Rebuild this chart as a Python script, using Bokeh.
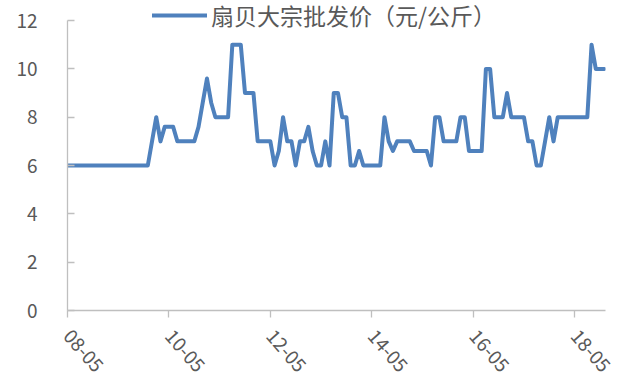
from bokeh.plotting import figure
from bokeh.models import Range1d, FixedTicker, Legend, LegendItem
from bokeh.embed import file_html
from bokeh.resources import INLINE

series_name = "扇贝大宗批发价（元/公斤）"

# monthly prices from 2008-05 to 2018-12
prices = [
    6, 6, 6, 6, 6, 6, 6, 6, 6, 6, 6, 6,
    6, 6, 6, 6, 6, 6, 6, 6, 7, 8, 7, 7.6,
    7.6, 7.6, 7, 7, 7, 7, 7, 7.6, 8.6, 9.6, 8.6, 8,
    8, 8, 8, 11, 11, 11, 9, 9, 9, 7, 7, 7,
    7, 6, 6.6, 8, 7, 7, 6, 7, 7, 7.6, 6.6, 6,
    6, 7, 6, 9, 9, 8, 8, 6, 6, 6.6, 6, 6,
    6, 6, 6, 8, 7, 6.6, 7, 7, 7, 7, 6.6, 6.6,
    6.6, 6.6, 6, 8, 8, 7, 7, 7, 7, 8, 8, 6.6,
    6.6, 6.6, 6.6, 10, 10, 8, 8, 8, 9, 8, 8, 8,
    8, 7, 7, 6, 6, 7, 8, 7, 8, 8, 8, 8,
    8, 8, 8, 8, 11, 10, 10, 10,
]
month_index = list(range(len(prices)))

x_tick_positions = [0, 24, 48, 72, 96, 120]
x_tick_labels = ["08-05", "10-05", "12-05", "14-05", "16-05", "18-05"]
y_ticks = [0, 2, 4, 6, 8, 10, 12]

FONT = "Noto Sans CJK SC"
LINE_COLOR = "#4f81bd"
AXIS_COLOR = "#bfbfbf"
TEXT_COLOR = "#595959"

# extra headroom above 12 holds the legend
p = figure(width=630, height=383, output_backend="svg", toolbar_location=None,
           x_range=Range1d(0, 127.3), y_range=Range1d(0, 12.83),
           min_border_left=67, min_border_right=25, min_border_top=0,
           min_border_bottom=73)
p.outline_line_color = None
p.xgrid.visible = False
p.ygrid.visible = False
p.background_fill_color = "white"
p.border_fill_color = "white"

r = p.line(month_index, prices, line_color=LINE_COLOR, line_width=4,
           line_join="round", line_cap="round")

# axes
p.xaxis.ticker = FixedTicker(ticks=x_tick_positions)
p.xaxis.major_label_overrides = {t: l for t, l in zip(x_tick_positions, x_tick_labels)}
p.xaxis.major_label_orientation = -0.85
p.yaxis.ticker = FixedTicker(ticks=y_ticks)
p.yaxis.bounds = (0, 12)
for ax in (p.xaxis[0], p.yaxis[0]):
    ax.axis_line_color = AXIS_COLOR
    ax.axis_line_width = 1.3
    ax.major_tick_line_color = AXIS_COLOR
    ax.major_tick_line_width = 1.3
    ax.minor_tick_line_color = None
    ax.major_label_text_font = FONT
    ax.major_label_text_font_size = "19px"
    ax.major_label_text_color = TEXT_COLOR
p.yaxis.major_tick_in = 7
p.yaxis.major_tick_out = 0
p.xaxis.major_tick_in = 0
p.xaxis.major_tick_out = 7
p.yaxis[0].major_label_standoff = 30
p.xaxis[0].major_label_standoff = 15

legend = Legend(items=[LegendItem(label=series_name, renderers=[r])],
                location=(85, 278), orientation="horizontal",
                border_line_alpha=0, background_fill_alpha=0,
                padding=0, margin=0, glyph_width=55, glyph_height=20,
                label_height=20, label_standoff=4,
                label_text_line_height=1.0,
                label_text_font=FONT, label_text_font_size="23px",
                label_text_color=TEXT_COLOR)
p.add_layout(legend, "center")

open("out.html", "w").write(file_html(p, INLINE))
